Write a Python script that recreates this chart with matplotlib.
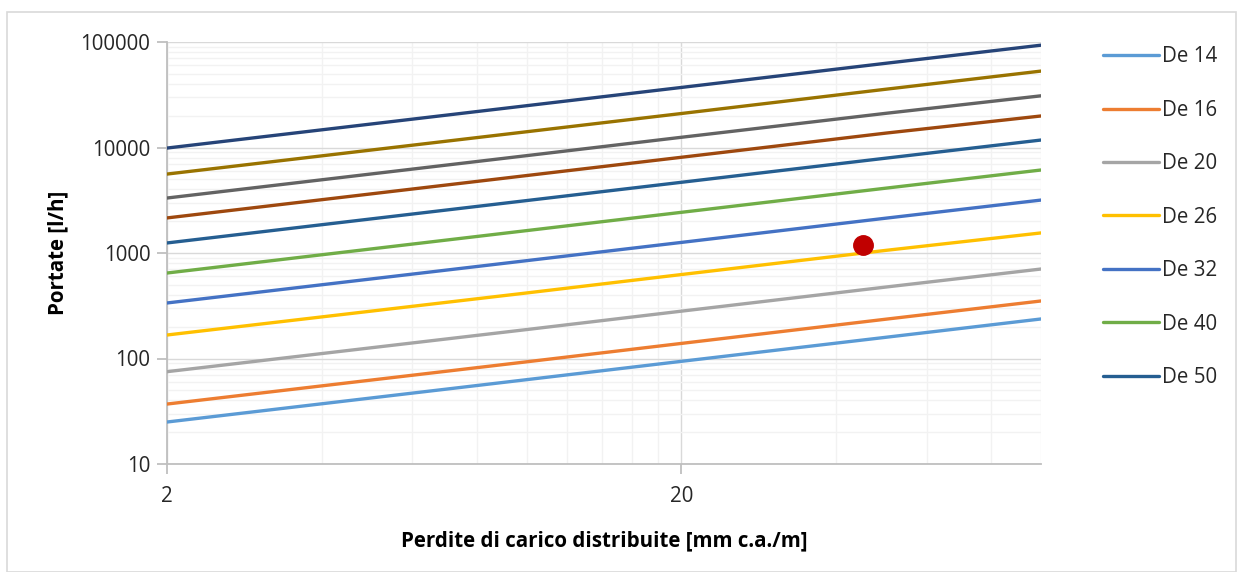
import matplotlib
matplotlib.use("Agg")
import matplotlib.pyplot as plt
from matplotlib.ticker import FixedLocator, NullFormatter, FixedFormatter
from matplotlib.patches import Rectangle

plt.rcParams['font.family'] = ['Open Sans', 'DejaVu Sans']

x_vals = [2, 10, 20, 50, 100]
series_names = ["De 14", "De 16", "De 20", "De 26", "De 32", "De 40", "De 50",
                "De 63", "De 75", "De 90", "De 110"]
de14 = [25, 63, 94, 159, 237]
de16 = [37, 93, 139, 236, 351]
de20 = [75, 188, 281, 476, 705]
de26 = [167, 418, 625, 1060, 1550]
de32 = [336, 846, 1260, 2140, 3175]
de40 = [646, 1630, 2430, 4120, 6120]
de50 = [1245, 3140, 4680, 7930, 11770]
de63 = [2150, 5420, 8080, 13700, 19900]
de75 = [3320, 8370, 12500, 21100, 30900]
de90 = [5600, 14100, 21000, 35700, 53000]
de110 = [9880, 24900, 37100, 62900, 93300]
series_values = [de14, de16, de20, de26, de32, de40, de50, de63, de75, de90, de110]
colors = ["#5B9BD5", "#ED7D31", "#A5A5A5", "#FFC000", "#4472C4", "#70AD47",
          "#255E91", "#9E480E", "#636363", "#997300", "#264478"]

point_x = [45]
point_y = [1190]

x_ticks = [2, 20]
x_tick_labels = ["2", "20"]
y_ticks = [10, 100, 1000, 10000, 100000]
y_tick_labels = ["10", "100", "1000", "10000", "100000"]

W, H = 1240, 572
fig = plt.figure(figsize=(W / 100, H / 100), dpi=100)
ax = fig.add_axes([167 / W, 1 - 464 / H, (1041 - 167) / W, (464 - 42) / H])

# outer chart border
fig.patches.append(Rectangle((7 / W, 0 / H), (1236 - 7) / W, (572 - 12) / H,
                             transform=fig.transFigure, fill=False,
                             edgecolor="#D9D9D9", linewidth=1.2))

handles = []
for name, vals, c in zip(series_names, series_values, colors):
    h, = ax.plot(x_vals, vals, color=c, linewidth=2.4, label=name,
                 solid_capstyle='round', zorder=3)
    handles.append(h)

ax.plot(point_x, point_y, 'o', color="#C00000", markersize=14, zorder=4)

ax.set_xscale('log')
ax.set_yscale('log')
ax.set_xlim(2, 100)
ax.set_ylim(10, 100000)

ax.xaxis.set_major_locator(FixedLocator(x_ticks))
ax.xaxis.set_major_formatter(FixedFormatter(x_tick_labels))
x_minor = [4, 6, 8, 10, 12, 14, 16, 18, 40, 60, 80, 100]
ax.xaxis.set_minor_locator(FixedLocator(x_minor))
ax.xaxis.set_minor_formatter(NullFormatter())

ax.yaxis.set_major_locator(FixedLocator(y_ticks))
ax.yaxis.set_major_formatter(FixedFormatter(y_tick_labels))
y_minor = [m * 10 ** e for e in range(1, 5) for m in range(2, 10)]
ax.yaxis.set_minor_locator(FixedLocator(y_minor))
ax.yaxis.set_minor_formatter(NullFormatter())

ax.grid(True, which='minor', color="#F2F2F2", linewidth=1.0, zorder=0)
ax.grid(True, which='major', color="#D9D9D9", linewidth=1.0, zorder=1)
ax.set_axisbelow(True)

for s in ['top', 'right']:
    ax.spines[s].set_visible(False)
for s in ['left', 'bottom']:
    ax.spines[s].set_color("#BFBFBF")
    ax.spines[s].set_linewidth(1.3)

FS = 14.8
ax.tick_params(axis='both', which='major', length=7, color="#BFBFBF",
               width=1.3, labelsize=FS, labelcolor="#262626")
ax.tick_params(axis='x', which='major', pad=9)
ax.tick_params(axis='y', which='major', pad=5)
ax.tick_params(axis='both', which='minor', length=0)

ax.set_xlabel("Perdite di carico distribuite [mm c.a./m]", fontsize=FS,
              fontweight='bold', color="#000000", labelpad=17)
ax.set_ylabel("Portate [l/h]", fontsize=FS, fontweight='bold',
              color="#000000", labelpad=9)

leg = fig.legend(handles=handles[:7], labels=series_names[:7],
                 loc='upper left', bbox_to_anchor=(1095 / W, 1 - 38 / H),
                 frameon=False, fontsize=FS, handlelength=2.7,
                 handletextpad=0.15, labelspacing=1.58, borderaxespad=0)
for t in leg.get_texts():
    t.set_color("#262626")

fig.savefig("out.png", dpi=100)
